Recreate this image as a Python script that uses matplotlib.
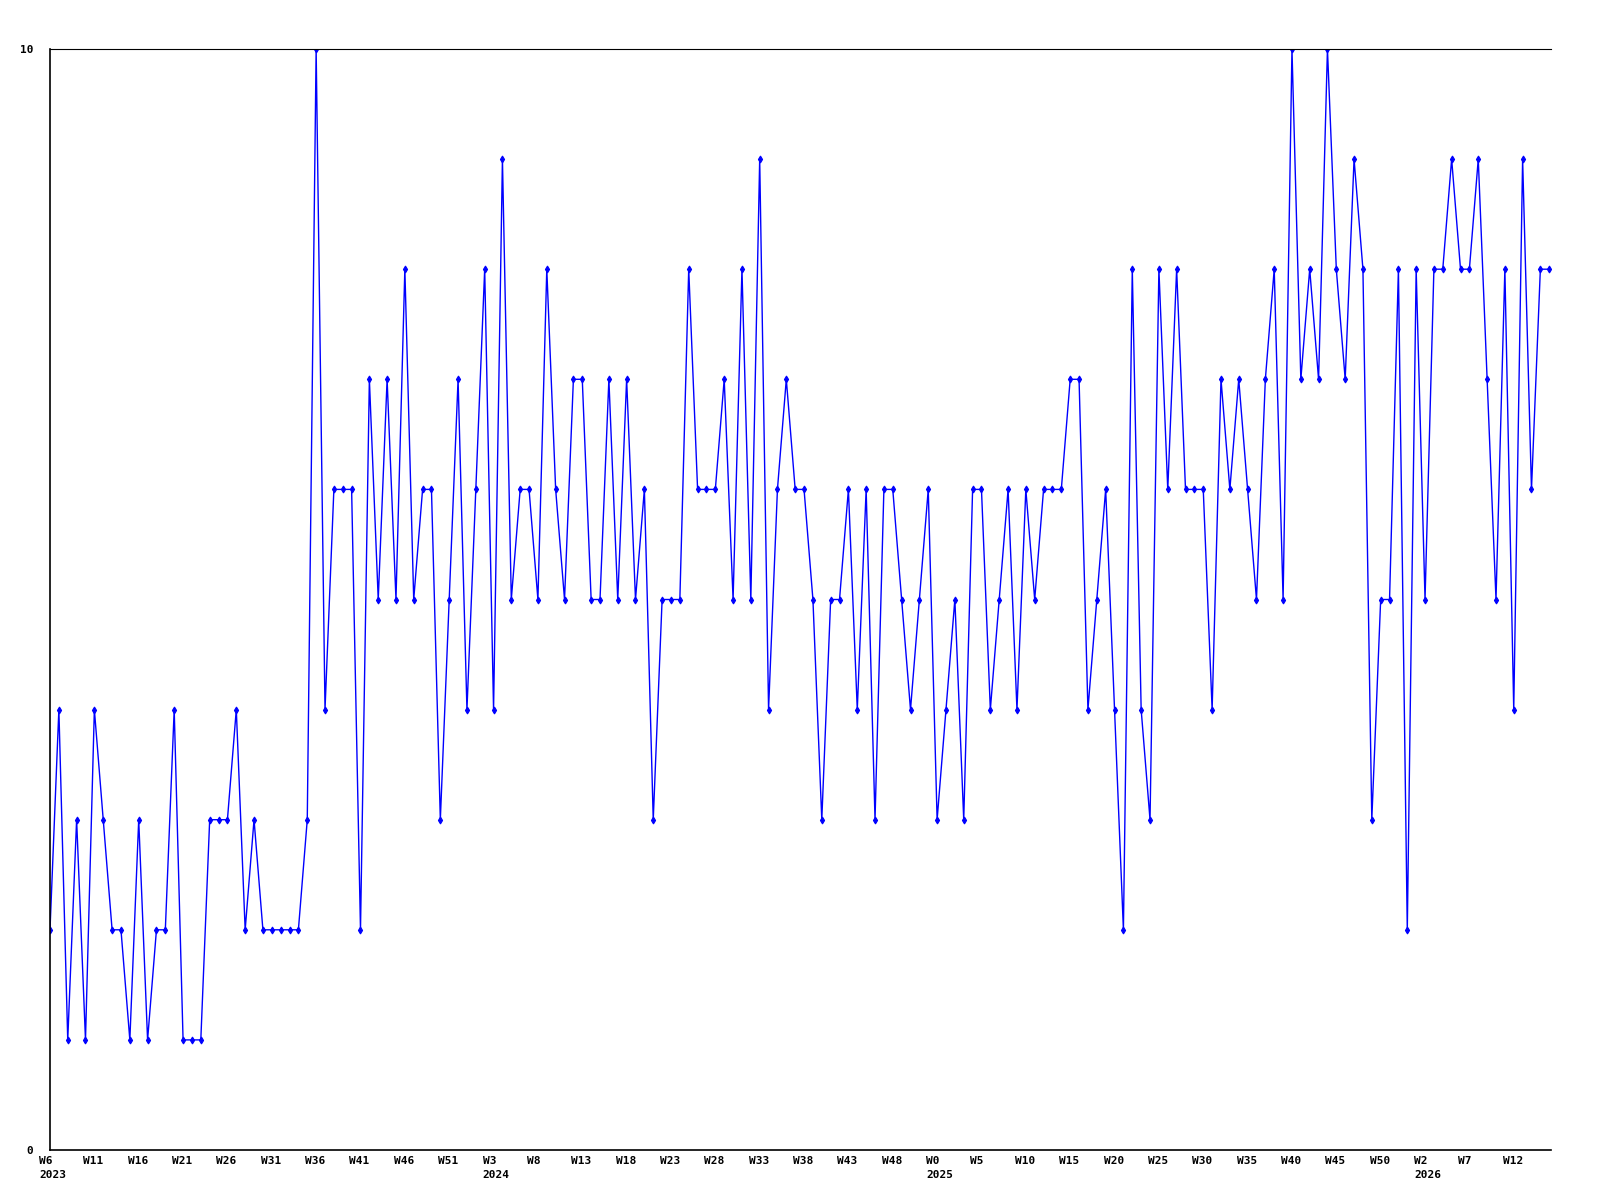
import matplotlib
matplotlib.use("Agg")
import matplotlib.pyplot as plt
from matplotlib.transforms import ScaledTranslation

# weekly values, one per week starting W6 2023
values = [2, 4, 1, 3, 1, 4, 3, 2, 2, 1, 3, 1, 2, 2, 4, 1, 1, 1, 3, 3, 3, 4,
          2, 3, 2, 2, 2, 2, 2, 3, 10, 4, 6, 6, 6, 2, 7, 5, 7, 5, 8, 5, 6,
          6, 3, 5, 7, 4, 6, 8, 4, 9, 5, 6, 6, 5, 8, 6, 5, 7, 7, 5, 5, 7, 5,
          7, 5, 6, 3, 5, 5, 5, 8, 6, 6, 6, 7, 5, 8, 5, 9, 4, 6, 7, 6, 6,
          5, 3, 5, 5, 6, 4, 6, 3, 6, 6, 5, 4, 5, 6, 3, 4, 5, 3, 6, 6, 4, 5,
          6, 4, 6, 5, 6, 6, 6, 7, 7, 4, 5, 6, 4, 2, 8, 4, 3, 8, 6, 8, 6,
          6, 6, 4, 7, 6, 7, 6, 5, 7, 8, 5, 10, 7, 8, 7, 10, 8, 7, 9, 8, 3, 5,
          5, 8, 2, 8, 5, 8, 8, 9, 8, 8, 9, 7, 5, 8, 4, 9, 6, 8, 8]

# a label every 5th week
week_labels = ["W6", "W11", "W16", "W21", "W26", "W31", "W36", "W41", "W46", "W51",
               "W3", "W8", "W13", "W18", "W23", "W28", "W33", "W38", "W43", "W48",
               "W0", "W5", "W10", "W15", "W20", "W25", "W30", "W35", "W40", "W45", "W50",
               "W2", "W7", "W12"]
year_marks = {"W6": "2023", "W3": "2024", "W0": "2025", "W2": "2026"}
label_step = 5

y_ticks = [0, 10]

fig = plt.figure(figsize=(16, 12), dpi=100)
ax = fig.add_axes([50 / 1600, 1 - 1150 / 1200, 1501 / 1600, 1101 / 1200])

x = list(range(len(values)))
ax.plot(x, values, color="#0000ff", lw=1, marker="d", ms=3.5, mew=0.8)

ax.set_xlim(0, 169.2)
ax.set_ylim(0, 10)

# x labels drawn as text so they can sit a little left of their week
ax.set_xticks([])
font = dict(family="DejaVu Sans Mono", weight="bold", size=8)
shift = ScaledTranslation(-11 / 100, -6 / 100, fig.dpi_scale_trans)
for i, w in enumerate(week_labels):
    txt = w
    if w in year_marks:
        txt = w + "\n" + year_marks[w]
    ax.text(i * label_step, 0, txt, transform=ax.get_xaxis_transform() + shift,
            ha="left", va="top", linespacing=1.55, clip_on=False, **font)

ax.set_yticks(y_ticks)
ax.set_yticklabels([str(v) for v in y_ticks], fontfamily="DejaVu Sans Mono",
                   fontweight="bold", fontsize=8)
ax.tick_params(axis="y", length=0, pad=12)

ax.spines["right"].set_visible(False)
ax.spines["top"].set_linewidth(0.8)
ax.spines["left"].set_linewidth(1.2)
ax.spines["bottom"].set_linewidth(1.2)

fig.savefig("out.png", dpi=100)
